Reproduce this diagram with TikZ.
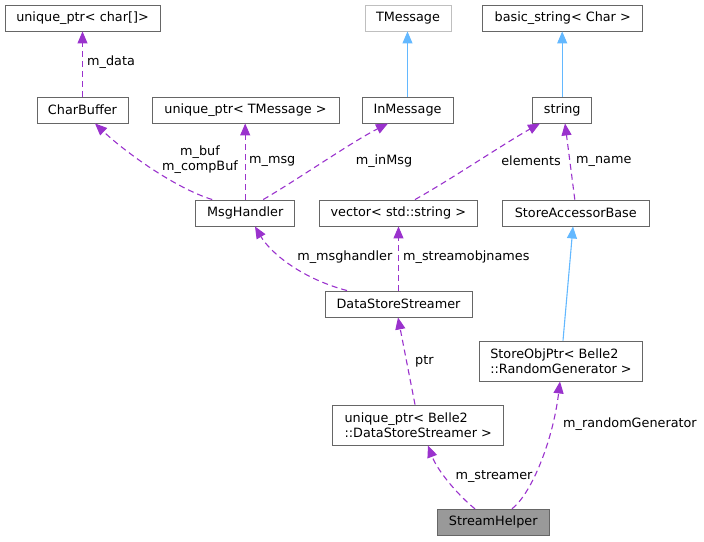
\documentclass[tikz,border=0pt]{standalone}
\usepackage{fontspec}
\setmainfont{DejaVu Sans}
\usetikzlibrary{arrows.meta}
\definecolor{edgep}{HTML}{9A32CD}
\definecolor{edgeb}{HTML}{63B8FF}
\definecolor{boxline}{HTML}{666666}
\definecolor{boxlight}{HTML}{BFBFBF}
\definecolor{boxfill}{HTML}{999999}
\begin{document}
\begin{tikzpicture}[x=1pt,y=-1pt,
  every node/.style={font=\fontsize{12.8}{15}\selectfont, inner sep=0pt},
  cls/.style={draw=boxline, line width=0.9pt, fill=white, minimum height=26pt, align=left},
  usedby/.style={draw=edgep, line width=1.1pt, dash pattern=on 6pt off 4pt, -{Triangle[length=12pt,width=10pt]}},
  inherit/.style={draw=edgeb, line width=1.1pt, -{Triangle[length=12pt,width=10pt]}},
  lbl/.style={text=black}]
\useasboundingbox (0,0) rectangle (704,541);

\node[cls, minimum width=155pt] (ucp) at (82.5,18) {unique\_ptr< char[]>};
\node[cls, minimum width=91pt] (cb) at (82.5,110) {CharBuffer};
\node[cls, minimum width=187pt] (utm) at (245.5,110) {unique\_ptr< TMessage >};
\node[cls, draw=boxlight, minimum width=86pt] (tm) at (408,18) {TMessage};
\node[cls, minimum width=91pt] (inm) at (407.5,110) {InMessage};
\node[cls, minimum width=160pt] (bs) at (562.7,18) {basic\_string< Char >};
\node[cls, minimum width=59pt] (str) at (562.2,110) {string};
\node[cls, minimum width=99pt] (mh) at (245.2,213) {MsgHandler};
\node[cls, minimum width=158pt] (vec) at (398.3,213) {vector< std::string >};
\node[cls, minimum width=147pt] (sab) at (575.8,213) {StoreAccessorBase};
\node[cls, minimum width=147pt] (dss) at (398.5,304) {DataStoreStreamer};
\node[cls, minimum width=163.4pt, minimum height=40pt] (sop) at (561,361) {StoreObjPtr< Belle2\\::RandomGenerator >};
\node[cls, minimum width=171pt, minimum height=40pt] (ud) at (418.2,425) {unique\_ptr< Belle2\\::DataStoreStreamer >};
\node[cls, fill=boxfill, minimum width=112pt] (sh) at (493.2,522.3) {StreamHelper};

% edges
\draw[usedby] (cb.north) -- (ucp.south);
\node[lbl, anchor=west] (lmdata) at (87,62) {m\_data};

\draw[usedby] ([xshift=-33pt]mh.north) .. controls (175,188) and (125,152) .. ([xshift=12.5pt]cb.south);
\node[lbl, align=center] (lbuf) at (200,160) {m\_buf\\m\_compBuf};

\draw[usedby] (mh.north) -- (mh.north |- utm.south);
\node[lbl, anchor=west] (lmsg) at (249,161) {m\_msg};

\draw[usedby] ([xshift=18pt]mh.north) .. controls (300,178) and (350,143) .. ([xshift=-19.5pt]inm.south);
\node[lbl] (linmsg) at (384,161) {m\_inMsg};

\draw[inherit] (inm.north) -- (inm.north |- tm.south);
\draw[inherit] (str.north) -- (str.north |- bs.south);

\draw[usedby] ([xshift=16.7pt]vec.north) .. controls (450,180) and (505,143) .. ([xshift=-22.2pt]str.south);
\node[lbl, anchor=east] (lelem) at (561,161) {elements};

\draw[usedby] ([xshift=-1pt]sab.north) -- ([xshift=2.8pt]str.south);
\node[lbl, anchor=west] (lname) at (576,161) {m\_name};

\draw[inherit] ([xshift=2pt]sop.north) -- ([xshift=-2.8pt]sab.south);

\draw[usedby] ([xshift=-51.5pt]dss.north) .. controls (300,278) and (270,252) .. ([xshift=9.8pt]mh.south);
\node[lbl, anchor=east] (lmsgh) at (392.5,257.5) {m\_msghandler};

\draw[usedby] (dss.north) -- (dss.north |- vec.south);
\node[lbl, anchor=west] (lsobj) at (403,257.5) {m\_streamobjnames};

\draw[usedby] ([xshift=-3.2pt]ud.north) -- ([xshift=-0.5pt]dss.south);
\node[lbl, anchor=west] (lptr) at (415,361) {ptr};

\draw[usedby] ([xshift=-18.2pt]sh.north) .. controls (460,497) and (438,472) .. ([xshift=9.8pt]ud.south);
\node[lbl] (lstr) at (494,476.5) {m\_streamer};

\draw[usedby] ([xshift=18.8pt]sh.north) .. controls (532,493) and (553,440) .. ([xshift=-1pt]sop.south);
\node[lbl, anchor=west] (lrg) at (563,424.5) {m\_randomGenerator};

\end{tikzpicture}
\end{document}
